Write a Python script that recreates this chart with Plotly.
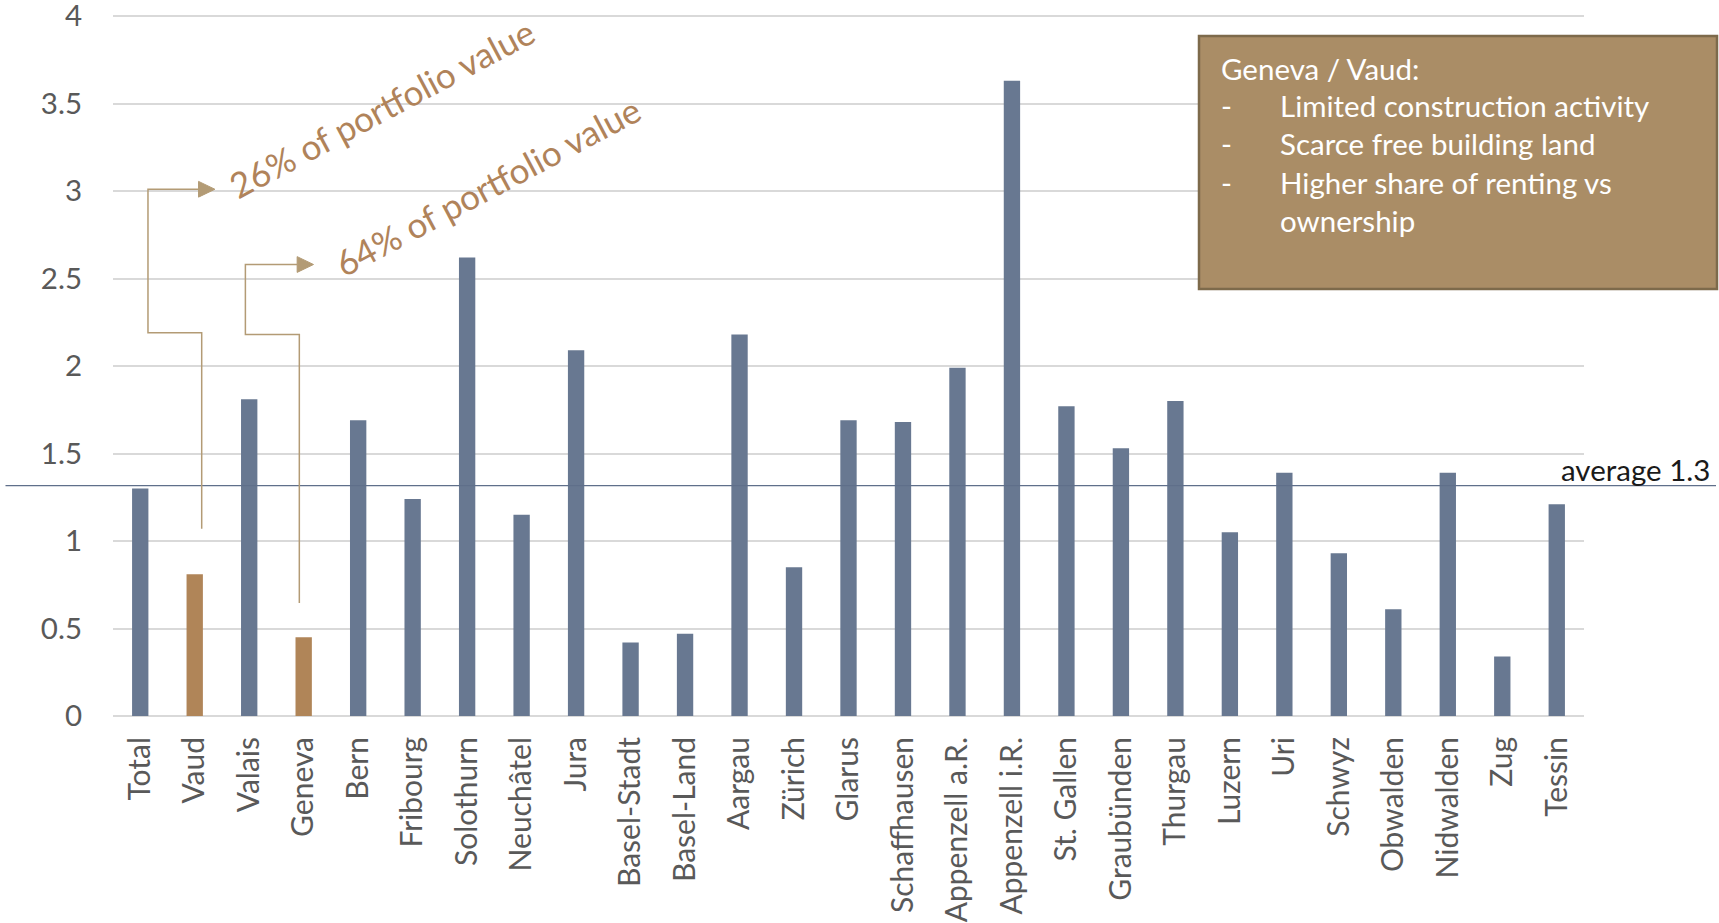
import plotly.graph_objects as go

cantons = ["Total", "Vaud", "Valais", "Geneva", "Bern", "Fribourg", "Solothurn", "Neuchâtel",
           "Jura", "Basel-Stadt", "Basel-Land", "Aargau", "Zürich", "Glarus", "Schaffhausen",
           "Appenzell a.R.", "Appenzell i.R.", "St. Gallen", "Graubünden", "Thurgau", "Luzern",
           "Uri", "Schwyz", "Obwalden", "Nidwalden", "Zug", "Tessin"]
values = [1.30, 0.81, 1.81, 0.45, 1.69, 1.24, 2.62, 1.15, 2.09, 0.42, 0.47, 2.18, 0.85, 1.69,
          1.68, 1.99, 3.63, 1.77, 1.53, 1.80, 1.05, 1.39, 0.93, 0.61, 1.39, 0.34, 1.21]
highlighted = ["Vaud", "Geneva"]
average_value = 1.316
average_label = "average 1.3"
y_ticks = [0, 0.5, 1, 1.5, 2, 2.5, 3, 3.5, 4]
y_tick_labels = ["0", "0.5", "1", "1.5", "2", "2.5", "3", "3.5", "4"]
box_title = "Geneva / Vaud:"
box_items = ["Limited construction activity", "Scarce free building land",
             "Higher share of renting vs", "ownership"]

BLUE = "#687891"
BROWN = "#B08558"
TAN = "#B39B75"
FONT = "Lato"
FS = 29.5

colors = [BROWN if c in highlighted else BLUE for c in cantons]

fig = go.Figure()
fig.add_trace(go.Bar(x=cantons, y=values, marker=dict(color=colors, line=dict(width=0)),
                     hoverinfo="skip"))

W, H = 1719, 923
L, R, T, B = 113, 135, 2, 207
PW = W - L - R          # plot width in px
PH = H - T - B          # plot height in px
YMAX = 4.08

def px_to_paper(px, py):
    return (px - L) / PW, (H - B - py) / PH

fig.update_layout(
    width=W, height=H,
    margin=dict(l=L, r=R, t=T, b=B, pad=0, autoexpand=False),
    plot_bgcolor="white", paper_bgcolor="white",
    bargap=0.7, showlegend=False,
    font=dict(family=FONT, color="#595959", size=FS),
    xaxis=dict(type="category", range=[-0.5, len(cantons) - 0.5], tickangle=-90,
               showgrid=False, showline=False, ticks="", ticklabelstandoff=14,
               automargin=False, ticklabeloverflow="allow",
               tickfont=dict(size=30, color="#595959", family=FONT)),
    yaxis=dict(range=[0, YMAX], tickvals=y_ticks, ticktext=y_tick_labels, showgrid=True,
               gridcolor="#D9D9D9", gridwidth=1.5, zeroline=True, zerolinecolor="#D9D9D9",
               zerolinewidth=1.5, showline=False, ticks="", ticklabelstandoff=30,
               automargin=False, ticklabeloverflow="allow",
               tickfont=dict(size=FS, color="#595959", family=FONT)),
)

# average line spanning beyond the plot
x0p, _ = px_to_paper(5.5, 0)
x1p, _ = px_to_paper(1716, 0)
fig.add_shape(type="line", xref="paper", yref="y", x0=x0p, x1=x1p,
              y0=average_value, y1=average_value, line=dict(color="#5F6F8A", width=1.2))
ax_, ay_ = px_to_paper(1712, 469)
fig.add_annotation(xref="paper", yref="paper", x=ax_, y=ay_, text=average_label,
                   showarrow=False, xanchor="right", yanchor="middle",
                   font=dict(size=FS, color="#1A1A1A", family=FONT))

# elbow connectors with arrowheads
def connector(pts):
    path = "M {} {}".format(*pts[0]) + "".join(" L {} {}".format(x, y) for x, y in pts[1:])
    fig.add_shape(type="path", xref="x", yref="y", path=path, line=dict(color=TAN, width=1.5))
    tx, ty = pts[-1]
    hl, hw = 0.30, 0.045
    tri = "M {} {} L {} {} L {} {} Z".format(tx + hl, ty, tx, ty + hw, tx, ty - hw)
    fig.add_shape(type="path", xref="x", yref="y", path=tri, fillcolor=TAN,
                  line=dict(color=TAN, width=1))

connector([(1.128, 1.07), (1.128, 2.19), (0.142, 2.19), (0.142, 3.01), (1.07, 3.01)])
connector([(2.92, 0.646), (2.92, 2.18), (1.93, 2.18), (1.93, 2.58), (2.88, 2.58)])

for txt, (cx, cy) in [("26% of portfolio value", (381, 108)),
                      ("64% of portfolio value", (487, 186))]:
    px_, py_ = px_to_paper(cx, cy)
    fig.add_annotation(xref="paper", yref="paper", x=px_, y=py_, text=txt,
                       showarrow=False, textangle=-28, xanchor="center", yanchor="middle",
                       font=dict(size=35, color="#B0835A", family=FONT))

# info box
bx0, by0 = px_to_paper(1199, 289)
bx1, by1 = px_to_paper(1717, 36)
fig.add_shape(type="rect", xref="paper", yref="paper", x0=bx0, x1=bx1, y0=by0, y1=by1,
              fillcolor="#AA8D66", line=dict(color="#7D6A4B", width=2.5), layer="above")
dash_x, _ = px_to_paper(1219, 0)
text_x, _ = px_to_paper(1278, 0)
_, title_y = px_to_paper(0, 68)
fig.add_annotation(xref="paper", yref="paper", x=dash_x, y=title_y, text=box_title,
                   showarrow=False, xanchor="left", yanchor="middle",
                   font=dict(size=FS, color="white", family=FONT))
line_py = [105, 143.5, 182, 220.5]
for i, (item, lp) in enumerate(zip(box_items, line_py)):
    _, yy = px_to_paper(0, lp)
    if i < 3:
        fig.add_annotation(xref="paper", yref="paper", x=dash_x, y=yy, text="-",
                           showarrow=False, xanchor="left", yanchor="middle",
                           font=dict(size=FS, color="white", family=FONT))
    fig.add_annotation(xref="paper", yref="paper", x=text_x, y=yy, text=item,
                       showarrow=False, xanchor="left", yanchor="middle",
                       font=dict(size=FS, color="white", family=FONT))

fig.write_html("out.html")
